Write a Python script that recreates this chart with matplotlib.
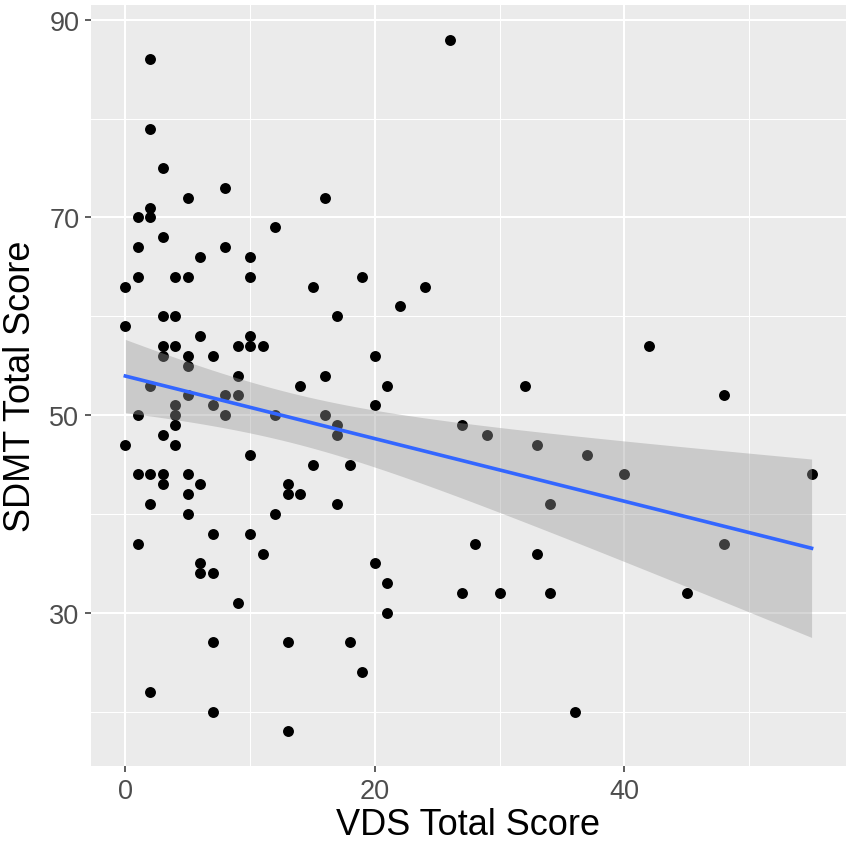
import numpy as np
import matplotlib
matplotlib.use("Agg")
import matplotlib.pyplot as plt
from matplotlib.ticker import MultipleLocator

# VDS total score (x) and SDMT total score (y)
vds = [0, 0, 0,
       1, 1, 1, 1, 1, 1,
       2, 2, 2, 2, 2, 2, 2, 2,
       3, 3, 3, 3, 3, 3, 3, 3,
       4, 4, 4, 4, 4, 4, 4,
       5, 5, 5, 5, 5, 5, 5, 5,
       6, 6, 6, 6, 6,
       7, 7, 7, 7, 7, 7,
       8, 8, 8, 8,
       9, 9, 9, 9,
       10, 10, 10, 10, 10, 10,
       11, 11,
       12, 12, 12,
       13, 13, 13, 13,
       14, 14,
       15, 15,
       16, 16, 16,
       17, 17, 17, 17,
       18, 18,
       19, 19,
       20, 20, 20,
       21, 21, 21,
       22, 24, 26, 27, 27, 28, 29, 30, 32, 33, 33, 34, 34,
       36, 37, 40, 42, 45, 48, 48, 55]
sdmt = [63, 59, 47,
        70, 67, 64, 50, 44, 37,
        86, 79, 71, 70, 53, 44, 41, 22,
        75, 68, 60, 57, 56, 48, 44, 43,
        64, 60, 57, 51, 50, 49, 47,
        72, 64, 56, 55, 52, 44, 42, 40,
        66, 58, 43, 35, 34,
        56, 51, 38, 34, 27, 20,
        73, 67, 52, 50,
        57, 54, 52, 31,
        66, 64, 58, 57, 46, 38,
        57, 36,
        69, 50, 40,
        43, 42, 27, 18,
        53, 42,
        63, 45,
        72, 54, 50,
        60, 49, 48, 41,
        45, 27,
        64, 24,
        56, 51, 35,
        53, 33, 30,
        61, 63, 88, 49, 32, 37, 48, 32, 53, 47, 36, 41, 32,
        20, 46, 44, 57, 32, 52, 37, 44]

x = np.array(vds, dtype=float)
y = np.array(sdmt, dtype=float)

# linear fit with 95% confidence band (like geom_smooth(method="lm"))
n = len(x)
slope, intercept = np.polyfit(x, y, 1)
resid = y - (intercept + slope * x)
s = np.sqrt(np.sum(resid ** 2) / (n - 2))
xs = np.linspace(x.min(), x.max(), 80)
fit = intercept + slope * xs
se = s * np.sqrt(1 / n + (xs - x.mean()) ** 2 / np.sum((x - x.mean()) ** 2))
t_crit = 1.98
lo, hi = fit - t_crit * se, fit + t_crit * se

plt.rcParams['font.family'] = ['Liberation Sans', 'DejaVu Sans']

fig = plt.figure(figsize=(8.51, 8.45), dpi=100)
ax = fig.add_axes([0.107, 0.0923, 0.887, 0.9006])
ax.set_facecolor('#EBEBEB')

ax.scatter(x, y, s=62, color='black', linewidths=0, zorder=3)
ax.fill_between(xs, lo, hi, color='#999999', alpha=0.4, linewidth=0, zorder=4)
ax.plot(xs, fit, color='#3366FF', linewidth=2.6, zorder=5)

ax.set_xlim(-2.75, 57.75)
ax.set_ylim(14.5, 91.5)
ax.xaxis.set_major_locator(MultipleLocator(20))
ax.xaxis.set_minor_locator(MultipleLocator(10))
ax.set_yticks([30, 50, 70, 90])
ax.set_yticks([20, 40, 60, 80], minor=True)

ax.grid(which='major', color='white', linewidth=1.5)
ax.grid(which='minor', color='white', linewidth=0.75)
ax.set_axisbelow(True)
for sp in ax.spines.values():
    sp.set_visible(False)

ax.tick_params(which='major', length=4.5, width=1.1, color='#333333',
               labelsize=19.5, labelcolor='#4D4D4D', pad=4)
ax.tick_params(which='minor', length=0)

ax.set_xlabel('VDS Total Score', fontsize=26, color='black', labelpad=2)
ax.set_ylabel('SDMT Total Score', fontsize=26, color='black', labelpad=8)

fig.savefig('out.png', dpi=100)
